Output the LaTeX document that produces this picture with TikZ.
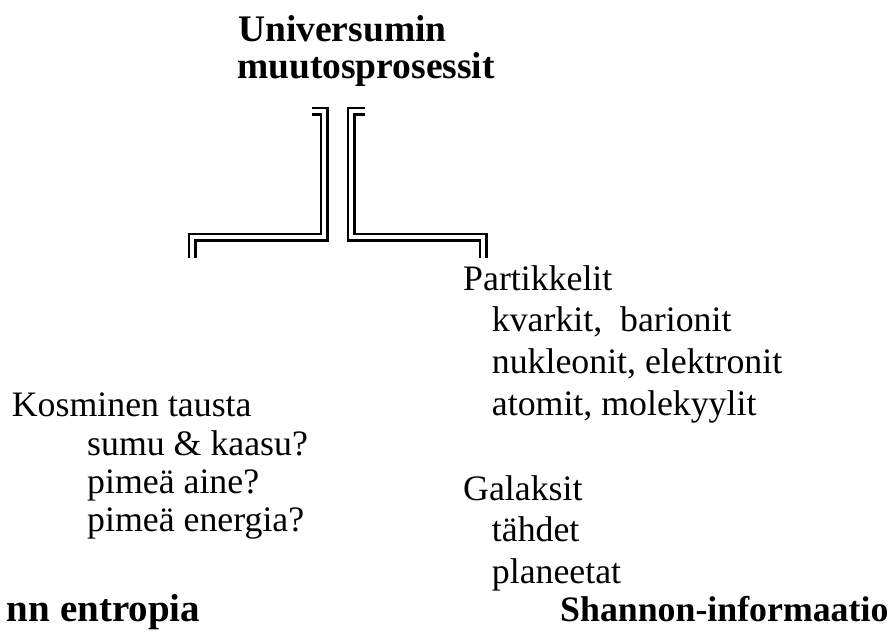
\documentclass[tikz,border=0pt]{standalone}
\usepackage{fontspec}
\setmainfont{Liberation Serif}
\begin{document}
\begin{tikzpicture}[x=1pt,y=-1pt,
  txt/.style={anchor=base west, inner sep=0pt, font=\fontsize{35.8}{42}\selectfont},
  btxt/.style={anchor=base west, inner sep=0pt, font=\fontsize{37.5}{42}\selectfont\bfseries},
  conn/.style={draw=black, double=white, double distance=4pt, line width=2.6pt, line join=miter, line cap=butt}]
\useasboundingbox (0,0) rectangle (891,633);
\clip (0,0) rectangle (891,633);

% title
\node[btxt] (t1) at (238,41.7) {Universumin};
\node[btxt] (t2) at (237,78) {muutosprosessit};

% left block
\node[txt] (k1) at (11.7,416.7) {Kosminen tausta};
\node[txt] (k2) at (87,455) {sumu \& kaasu?};
\node[txt] (k3) at (87,493.3) {pimeä aine?};
\node[txt] (k4) at (87,531.7) {pimeä energia?};

% right block
\node[txt] (p1) at (463,290) {Partikkelit};
\node[txt] (p2) at (491.7,331.7) {kvarkit,~ barionit};
\node[txt] (p3) at (491.7,373.3) {nukleonit, elektronit};
\node[txt] (p4) at (491.7,415.5) {atomit, molekyylit};
\node[txt] (g1) at (463,500) {Galaksit};
\node[txt] (g2) at (491.7,541.7) {tähdet};
\node[txt] (g3) at (491.7,583) {planeetat};

% bottom labels
\node[btxt, font=\fontsize{39}{42}\selectfont\bfseries] (b1) at (6.7,621.7) {nn entropia};
\node[btxt, font=\fontsize{35.8}{42}\selectfont\bfseries] (b2) at (560,621.7) {Shannon-informaatio};

% connector coordinates
\coordinate (LA) at (311.7,111.3);
\coordinate (LB) at (324.2,111.3);
\coordinate (LC) at (324.2,237.3);
\coordinate (LD) at (192.3,237.3);
\coordinate (LE) at (192.3,258.3);
\coordinate (RA) at (365,111.3);
\coordinate (RB) at (351.3,111.3);
\coordinate (RC) at (351.3,237.3);
\coordinate (RD) at (483.3,237.3);
\coordinate (RE) at (483.3,258.3);

\draw[conn] (LA) -- (LB) -- (LC) -- (LD) -- (LE);
\draw[conn] (RA) -- (RB) -- (RC) -- (RD) -- (RE);
\end{tikzpicture}
\end{document}
